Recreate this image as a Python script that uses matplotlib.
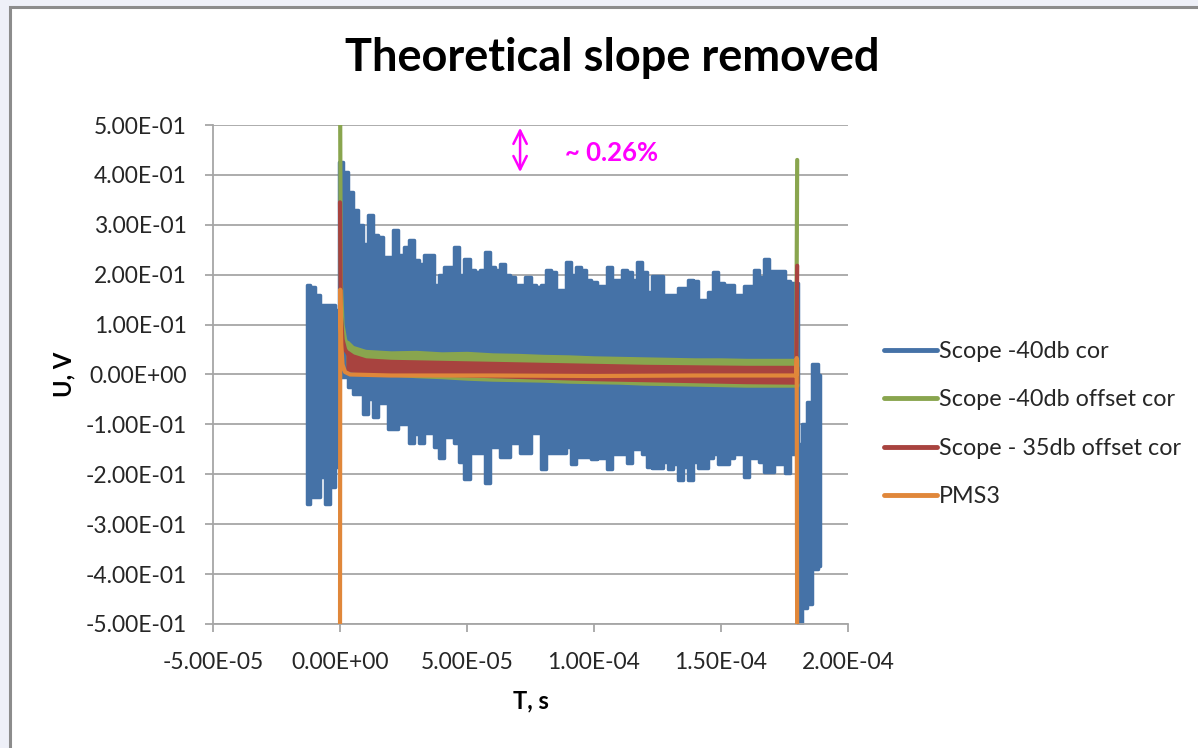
import numpy as np
import matplotlib
matplotlib.use("Agg")
import matplotlib.pyplot as plt
from matplotlib.patches import Rectangle
from matplotlib.ticker import FuncFormatter, MultipleLocator

plt.rcParams['font.family'] = ['Lato', 'DejaVu Sans']

# ---- data (time in microseconds, voltage in V) ----
# Scope -40db cor : envelope of the noisy trace (upper / lower peaks)
blue_pre_t = [-13, -11, -9, -7, -5, -3, -1]
blue_pre_hi = [0.18, 0.175, 0.16, 0.14, 0.14, 0.14, 0.13]
blue_pre_lo = [-0.26, -0.245, -0.245, -0.205, -0.26, -0.225, -0.185]

blue_t = list(range(0, 181, 2))
blue_hi = [0.425, 0.405, 0.365, 0.33, 0.30, 0.262, 0.32, 0.28, 0.275, 0.235,
           0.235, 0.29, 0.24, 0.255, 0.27, 0.23, 0.222, 0.24, 0.24, 0.18,
           0.20, 0.215, 0.215, 0.255, 0.20, 0.232, 0.21, 0.205, 0.21, 0.245,
           0.215, 0.21, 0.222, 0.20, 0.195, 0.18, 0.18, 0.195, 0.18, 0.175,
           0.18, 0.21, 0.205, 0.17, 0.17, 0.225, 0.20, 0.215, 0.21, 0.19,
           0.185, 0.177, 0.177, 0.215, 0.19, 0.19, 0.21, 0.205, 0.19, 0.225,
           0.205, 0.165, 0.198, 0.198, 0.16, 0.16, 0.16, 0.174, 0.174, 0.19,
           0.188, 0.15, 0.15, 0.165, 0.205, 0.184, 0.18, 0.18, 0.16, 0.16,
           0.177, 0.177, 0.21, 0.195, 0.232, 0.208, 0.208, 0.208, 0.188, 0.184,
           0.184]
blue_lo = [-0.005, -0.005, -0.025, -0.04, -0.04, -0.08, -0.05, -0.085, -0.058, -0.058,
           -0.11, -0.11, -0.10, -0.10, -0.138, -0.12, -0.138, -0.118, -0.118, -0.145,
           -0.168, -0.125, -0.125, -0.138, -0.175, -0.21, -0.158, -0.158, -0.158, -0.218,
           -0.145, -0.145, -0.165, -0.165, -0.138, -0.138, -0.158, -0.158, -0.118, -0.118,
           -0.19, -0.158, -0.158, -0.158, -0.158, -0.145, -0.18, -0.165, -0.165, -0.165,
           -0.17, -0.168, -0.168, -0.19, -0.16, -0.16, -0.16, -0.178, -0.15, -0.15,
           -0.16, -0.185, -0.188, -0.188, -0.175, -0.19, -0.18, -0.212, -0.185, -0.212,
           -0.175, -0.188, -0.188, -0.168, -0.16, -0.18, -0.18, -0.168, -0.16, -0.16,
           -0.205, -0.168, -0.168, -0.175, -0.195, -0.195, -0.18, -0.18, -0.198, -0.16,
           -0.16]

blue_post_t = [181, 183, 185, 187, 189]
blue_post_hi = [-0.14, -0.10, -0.055, 0.022, 0.0]
blue_post_lo = [-0.53, -0.467, -0.46, -0.39, -0.383]

# Scope -40db offset cor
green_t = [0, 0.3, 1, 2, 4, 8, 20, 60, 100, 140, 179.6, 180]
green_v = [0.62, 0.19, 0.10, 0.07, 0.045, 0.035, 0.025, 0.018, 0.012, 0.006, 0.003, 0.43]
green_band_t = [3, 5, 10, 20, 30, 40, 50, 60, 70, 80, 90, 100, 110, 120, 130, 140, 150, 160, 170, 180]
green_hi = [0.065, 0.055, 0.047, 0.044, 0.045, 0.042, 0.043, 0.040, 0.039, 0.037, 0.036, 0.034,
            0.033, 0.032, 0.031, 0.030, 0.030, 0.029, 0.029, 0.029]
green_lo = [0.02, 0.012, 0.004, 0.0, -0.003, -0.005, -0.008, -0.010, -0.011, -0.012, -0.014, -0.015,
            -0.016, -0.018, -0.019, -0.020, -0.021, -0.022, -0.022, -0.022]

# Scope - 35db offset cor
red_t = [0, 0.3, 1, 2, 4, 8, 20, 60, 100, 140, 179.6, 180]
red_v = [0.345, 0.12, 0.07, 0.05, 0.035, 0.028, 0.02, 0.012, 0.006, 0.002, 0.0, 0.218]
red_band_t = [3, 5, 10, 20, 40, 60, 80, 100, 120, 140, 160, 180]
red_hi = [0.045, 0.038, 0.030, 0.027, 0.025, 0.023, 0.021, 0.019, 0.017, 0.016, 0.015, 0.015]
red_lo = [0.010, 0.008, 0.006, 0.004, 0.0, -0.003, -0.006, -0.009, -0.011, -0.013, -0.015, -0.016]

# PMS3
orange_t = [0, 0.1, 0.5, 1, 2, 4, 20, 60, 100, 140, 179.6, 179.8, 180.0]
orange_v = [-0.6, 0.17, 0.06, 0.02, 0.005, 0.0, -0.002, -0.002, -0.003, -0.002, -0.002, 0.033, -0.6]

labels = ['Scope -40db cor', 'Scope -40db offset cor', 'Scope - 35db offset cor', 'PMS3']
colors = ['#4572A7', '#89A54E', '#A8433F', '#E0873A']

us = 1e-6

fig = plt.figure(figsize=(11.98, 7.48), dpi=100)
fig.patch.set_facecolor('#EEF0F8')
fig.patches.append(Rectangle((10 / 1198, -0.05), 1.1, (741 / 748) + 0.05, transform=fig.transFigure,
                             facecolor='white', edgecolor='#8C8C8C', lw=2.2, zorder=-10))

ax = fig.add_axes([213 / 1198, 124 / 748, 635 / 1198, 499 / 748])
ax.set_facecolor('none')

# blue: concatenated envelope drawn as stepped band
bt = np.array(blue_pre_t + blue_t + blue_post_t) * us
bhi = np.array(blue_pre_hi + blue_hi + blue_post_hi)
blo = np.array(blue_pre_lo + blue_lo + blue_post_lo)
ax.fill_between(bt, blo, bhi, step='mid', color=colors[0], lw=2.5, edgecolor=colors[0],
                joinstyle='round', zorder=2)

ax.fill_between(np.array(green_band_t) * us, green_lo, green_hi, color=colors[1], lw=2.5,
                edgecolor=colors[1], zorder=3)
ax.plot(np.array(green_t) * us, green_v, color=colors[1], lw=3, zorder=3, solid_capstyle='round')

ax.fill_between(np.array(red_band_t) * us, red_lo, red_hi, color=colors[2], lw=2.5,
                edgecolor=colors[2], zorder=4)
ax.plot(np.array(red_t) * us, red_v, color=colors[2], lw=3, zorder=4, solid_capstyle='round')

ax.plot(np.array(orange_t) * us, orange_v, color=colors[3], lw=3, zorder=5, solid_capstyle='round')

ax.set_xlim(-5e-5, 2e-4)
ax.set_ylim(-0.5, 0.5)
ax.xaxis.set_major_locator(MultipleLocator(5e-5))
ax.yaxis.set_major_locator(MultipleLocator(0.1))
fmt = FuncFormatter(lambda v, p: f"{0.0 if abs(v) < 1e-12 else v:.2E}")
ax.xaxis.set_major_formatter(fmt)
ax.yaxis.set_major_formatter(fmt)

ax.set_axisbelow(True)
ax.grid(axis='y', color='#A6A6A6', lw=1.3)
for s in ['top', 'right']:
    ax.spines[s].set_visible(False)
for s in ['left', 'bottom']:
    ax.spines[s].set_color('#A6A6A6')
    ax.spines[s].set_linewidth(1.3)
ax.tick_params(axis='both', colors='#A6A6A6', labelcolor='#262626', labelsize=16.5,
               length=6, width=1.3)
ax.tick_params(axis='y', pad=13)
ax.tick_params(axis='x', pad=14)

fig.text(612 / 1198, 1 - 58 / 748, 'Theoretical slope removed', fontsize=32.5, fontweight='bold',
         ha='center', va='center', color='black')
ax.set_xlabel('T, s', fontsize=17, fontweight='bold', labelpad=12)
ax.set_ylabel('U, V', fontsize=17, fontweight='bold', labelpad=7)

# magenta annotation
ax.annotate('', xy=(70.9 * us, 0.5), xytext=(70.9 * us, 0.4),
            arrowprops=dict(arrowstyle='<->', color='#FF00FF', lw=1.8, mutation_scale=24))
ax.text(88.6 * us, 0.444, '~ 0.26%', color='#FF00FF', fontsize=18.5, fontweight='bold',
        va='center', ha='left')

handles = [plt.Line2D([], [], color=c, lw=3.5, solid_capstyle='round') for c in colors]
fig.legend(handles, labels, loc='center left', bbox_to_anchor=(863 / 1198, 1 - 424 / 748),
           frameon=False, fontsize=16.8, handlelength=2.25, handletextpad=0.1, labelspacing=1.18,
           labelcolor='#262626')

fig.savefig('out.png', dpi=100, facecolor=fig.get_facecolor())
